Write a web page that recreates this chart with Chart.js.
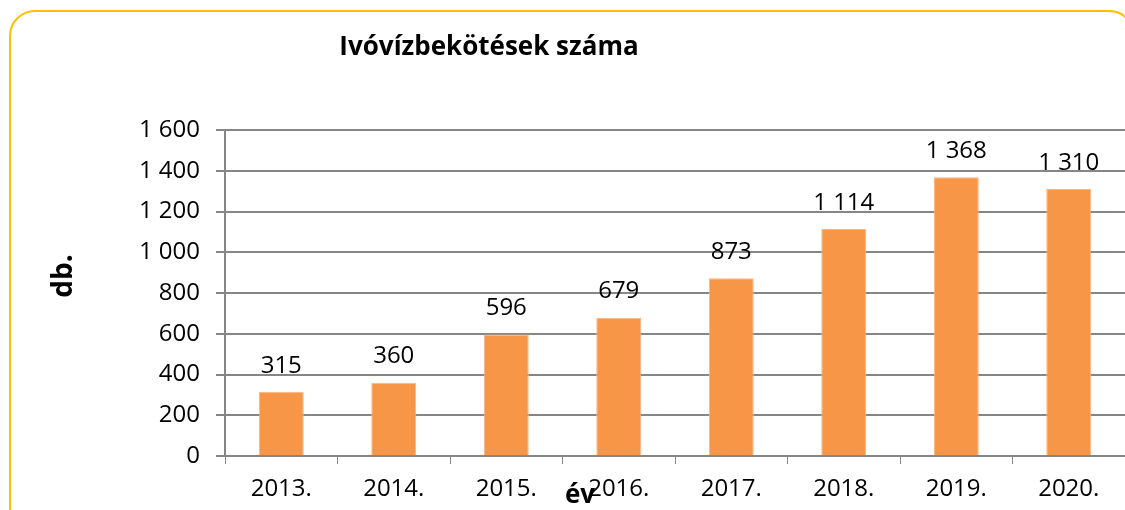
<!DOCTYPE html>
<html>
<head>
<meta charset="utf-8">
<script src="https://cdn.jsdelivr.net/npm/chart.js@4"></script>
<style>
  html, body { margin: 0; padding: 0; background: #fff; }
  #wrap { position: relative; width: 1125px; height: 510px; }
</style>
</head>
<body>
<div id="wrap"><canvas id="chart" width="1125" height="510"></canvas></div>
<script>
// Ivóvízbekötések száma (db.)
const evek = ['2013.', '2014.', '2015.', '2016.', '2017.', '2018.', '2019.', '2020.'];
const bekotesek = [315, 360, 596, 679, 873, 1114, 1368, 1310];
const yTickLabels = ['0', '200', '400', '600', '800', '1 000', '1 200', '1 400', '1 600'];

const chartTitle = 'Ivóvízbekötések száma';
const yTitle = 'db.';
const xTitle = 'év';

const FONT = '"Open Sans", "Noto Sans", sans-serif';
const GRID = '#868686';

// szám formázása szóközzel (1 114)
function fmt(v) {
    return String(v).replace(/\B(?=(\d{3})+(?!\d))/g, ' ');
}

// keret, címek, adatcímkék
const extras = {
    id: 'extras',
    beforeDraw(chart) {
        const ctx = chart.ctx;
        ctx.save();
        ctx.strokeStyle = '#FFC000';
        ctx.lineWidth = 2;
        ctx.beginPath();
        ctx.roundRect(10, 11, 1124, 600, 25);
        ctx.stroke();
        ctx.restore();
    },
    afterDatasetsDraw(chart) {
        const ctx = chart.ctx;
        ctx.save();
        ctx.fillStyle = '#000';
        ctx.textAlign = 'center';
        ctx.textBaseline = 'middle';

        ctx.font = 'bold 26px ' + FONT;
        ctx.fillText(chartTitle, 489, 48);
        ctx.fillText(xTitle, 580, 496);

        ctx.save();
        ctx.font = 'bold 28px ' + FONT;
        ctx.translate(64, 276);
        ctx.rotate(-Math.PI / 2);
        ctx.fillText(yTitle, 0, 0);
        ctx.restore();

        ctx.font = '24px ' + FONT;
        const meta = chart.getDatasetMeta(0);
        meta.data.forEach((bar, i) => {
            ctx.fillText(fmt(bekotesek[i]), bar.x, bar.y - 26);
        });
        ctx.restore();
    }
};

new Chart(document.getElementById('chart'), {
    type: 'bar',
    data: {
        labels: evek,
        datasets: [{
            data: bekotesek,
            backgroundColor: '#F79646',
            borderColor: '#FAB586',
            borderWidth: 1,
            categoryPercentage: 1,
            barPercentage: 0.4
        }]
    },
    options: {
        responsive: false,
        animation: false,
        layout: { padding: { top: 130, left: 0, right: 0, bottom: 0 } },
        plugins: {
            legend: { display: false },
            title: { display: false },
            tooltip: { enabled: false }
        },
        scales: {
            x: {
                grid: {
                    offset: true,
                    drawOnChartArea: false,
                    drawTicks: true,
                    tickLength: 8,
                    color: GRID
                },
                border: { color: GRID, width: 2 },
                ticks: {
                    color: '#000',
                    font: { family: FONT, size: 24 },
                    padding: 11,
                    maxRotation: 0
                },
                afterFit(scale) { scale.height = 54; }
            },
            y: {
                min: 0,
                max: 1600,
                ticks: {
                    stepSize: 200,
                    color: '#000',
                    font: { family: FONT, size: 24 },
                    padding: 16,
                    callback: (v, i) => yTickLabels[i]
                },
                grid: {
                    color: GRID,
                    lineWidth: 2,
                    tickLength: 9
                },
                border: { color: GRID, width: 2 },
                afterFit(scale) { scale.width = 225; }
            }
        }
    },
    plugins: [extras]
});
</script>
</body>
</html>
